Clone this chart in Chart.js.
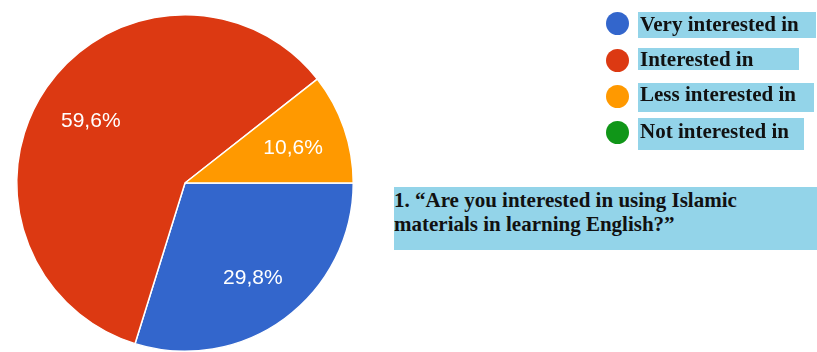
<!DOCTYPE html>
<html>
<head>
<meta charset="utf-8">
<script src="https://cdn.jsdelivr.net/npm/chart.js@4"></script>
<style>
  html, body { margin: 0; padding: 0; background: #fff; overflow: hidden; }
  #wrap { position: relative; width: 817px; height: 352px; }
  #pie { position: absolute; left: 0; top: 0; }
  .hl { position: absolute; background: #93d4e9; }
  .txt { position: absolute; font: bold 21px "Liberation Serif", "Times New Roman", serif;
         line-height: 24px; color: #111; white-space: nowrap; }
  .dot { position: absolute; width: 23px; height: 23px; border-radius: 50%; }
  #question { font-size: 21px; line-height: 24px; }
</style>
</head>
<body>
<div id="wrap">
  <canvas id="pie" width="817" height="352"></canvas>
  <div id="legend"></div>
  <div class="hl" style="left:394px; top:187px; width:423px; height:63px;"></div>
  <div class="txt" id="question" style="left:394px; top:188px;"></div>
</div>

<script>
// answers to question 1 (percent of respondents)
var answers = ["Very interested in", "Interested in", "Less interested in", "Not interested in"];
var percents = [29.8, 59.6, 10.6, 0];
var sliceColors = ["#3366cc", "#dc3912", "#ff9900", "#109618"];
var questionLines = ["1. \u201cAre you interested in using Islamic", "materials in learning English?\u201d"];

// highlighted legend rows: box top/height/width, text top, dot center
var legendRows = [
  { boxTop: 12, boxH: 26, boxW: 178, textTop: 12, dotY: 23 },
  { boxTop: 48, boxH: 22, boxW: 161, textTop: 47, dotY: 60 },
  { boxTop: 83, boxH: 29, boxW: 176, textTop: 82, dotY: 96 },
  { boxTop: 118, boxH: 32, boxW: 166, textTop: 119, dotY: 132 }
];

var legend = document.getElementById("legend");
answers.forEach(function (label, i) {
  var r = legendRows[i];
  var box = document.createElement("div");
  box.className = "hl";
  box.style.cssText = "left:638px;top:" + r.boxTop + "px;width:" + r.boxW + "px;height:" + r.boxH + "px;";
  legend.appendChild(box);

  var dot = document.createElement("div");
  dot.className = "dot";
  dot.style.cssText = "left:606px;top:" + (r.dotY - 11.5) + "px;background:" + sliceColors[i] + ";";
  legend.appendChild(dot);

  var t = document.createElement("div");
  t.className = "txt";
  t.style.cssText = "left:640px;top:" + r.textTop + "px;";
  t.textContent = label;
  legend.appendChild(t);
});

document.getElementById("question").innerHTML = questionLines.join("<br>");

// percentage text inside each slice
var sliceLabels = {
  id: "sliceLabels",
  afterDatasetsDraw: function (chart) {
    var ctx = chart.ctx;
    var meta = chart.getDatasetMeta(0);
    var data = chart.data.datasets[0].data;
    ctx.save();
    ctx.fillStyle = "#ffffff";
    ctx.font = "21px 'Liberation Sans', Arial, sans-serif";
    ctx.textAlign = "center";
    ctx.textBaseline = "middle";
    meta.data.forEach(function (arc, i) {
      if (!data[i]) return;
      var p = arc.getProps(["x", "y", "startAngle", "endAngle", "outerRadius"], true);
      var mid = (p.startAngle + p.endAngle) / 2;
      var d = p.outerRadius * 0.68;
      var txt = data[i].toFixed(1).replace(".", ",") + "%";
      ctx.fillText(txt, p.x + Math.cos(mid) * d, p.y + Math.sin(mid) * d + 3);
    });
    ctx.restore();
  }
};

new Chart(document.getElementById("pie"), {
  type: "pie",
  data: {
    labels: answers,
    datasets: [{
      data: percents,
      backgroundColor: sliceColors,
      borderColor: "#ffffff",
      borderWidth: 1.5
    }]
  },
  options: {
    responsive: false,
    animation: false,
    rotation: 90,
    layout: { padding: { left: 16, top: 14, right: 463, bottom: 0 } },
    plugins: {
      legend: { display: false },
      tooltip: { enabled: false }
    }
  },
  plugins: [sliceLabels]
});
</script>
</body>
</html>
